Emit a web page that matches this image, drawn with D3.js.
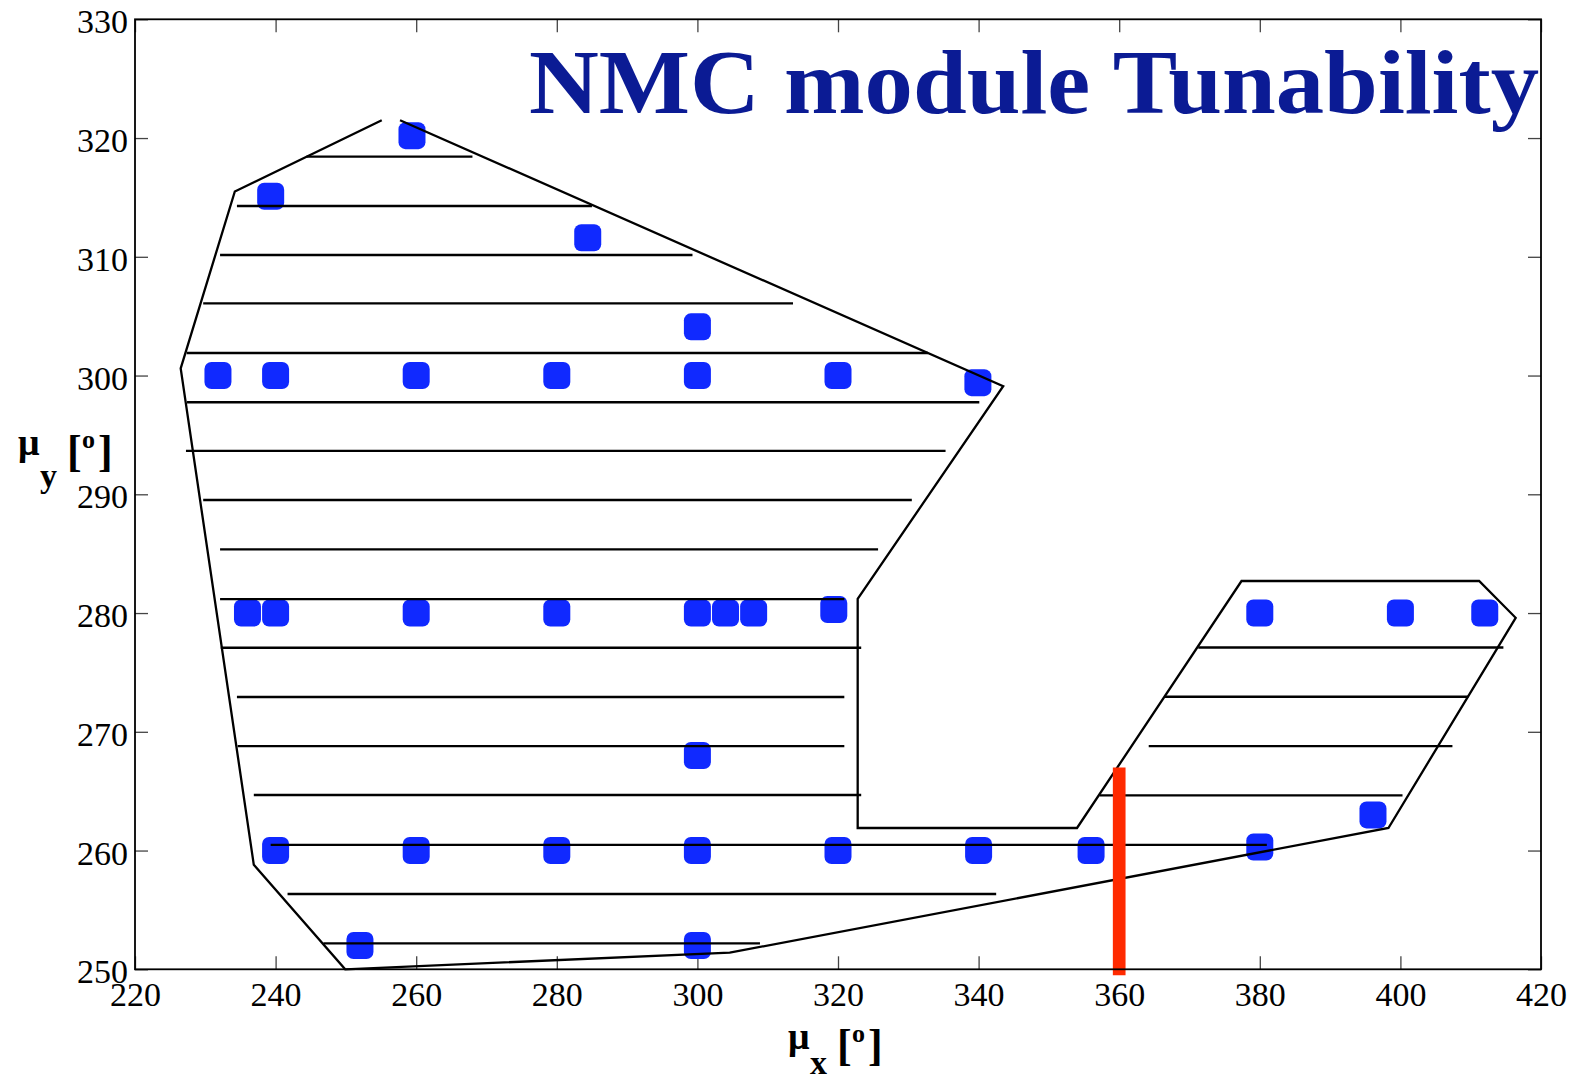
<!DOCTYPE html>
<html lang="en">
<head>
  <meta charset="utf-8">
  <script src="https://d3js.org/d3.v7.min.js"></script>
  <style>
    body { margin: 0; background: #fff; }
    svg { display: block; font-family: "Liberation Serif", "Times New Roman", serif; }
    .tick line { stroke: #444; stroke-width: 1.3px; }
    .tick text { font-family: "Liberation Serif", "Times New Roman", serif; font-size: 34px; fill: #000; }
  </style>
</head>
<body>
<script>
// tuning points (mu_x, mu_y) in degrees
var ptX = [259.4, 239.3, 284.4, 300,
           231.8, 240, 260, 280, 300, 320, 339.9,
           236, 240, 260, 280, 300, 304, 308, 319.4,
           380, 400, 412,
           300,
           240, 260, 280, 300, 320, 340, 356, 380,
           396.1,
           252, 300];
var ptY = [320.2, 315.1, 311.6, 304.1,
           300, 300, 300, 300, 300, 300, 299.4,
           280, 280, 280, 280, 280, 280, 280, 280.3,
           280, 280, 280,
           268,
           260, 260, 260, 260, 260, 260, 260, 260.3,
           263,
           252, 252];

// outline of the tunable region (open at the top)
var edgeX = [257.7, 343.5, 322.8, 322.8, 354.0, 377.4, 411.2, 416.4, 398.3, 304.6, 249.9, 236.9, 226.5, 234.2, 255.1];
var edgeY = [321.5, 299.1, 281.2, 261.9, 261.9, 282.7, 282.7, 279.6, 261.9, 251.4, 250.0, 258.8, 300.6, 315.5, 321.5];

// hatching segments
var hatchY  = [318.43, 314.28, 310.15, 306.07, 301.9, 297.75, 293.65, 289.52, 285.37, 281.18,
               277.08, 272.93, 268.8, 264.68, 260.47, 256.34, 252.19,
               277.1, 272.95, 268.8, 264.65];
var hatchX0 = [244.4, 234.5, 232.1, 229.7, 227.35, 227.4, 227.25, 229.7, 232.1, 232.1,
               232.2, 234.5, 234.6, 236.9, 239.3, 241.7, 246.8,
               371.25, 366.4, 364.2, 357.2];
var hatchX1 = [268.0, 285.0, 299.3, 313.6, 332.8, 340.1, 335.3, 330.5, 325.7, 320.9,
               323.3, 320.9, 320.9, 323.3, 381.0, 342.5, 308.9,
               414.65, 409.65, 407.4, 400.3];

// red marker at mu_x = 360
var markX = [360, 360];
var markY = [249.5, 267.0];

var xTicks = [220, 240, 260, 280, 300, 320, 340, 360, 380, 400, 420];
var yTicks = [250, 260, 270, 280, 290, 300, 310, 320, 330];

var width = 1573, height = 1082;
var m = {left: 135, right: 1541, top: 19.3, bottom: 969.3};

var svg = d3.select("body").append("svg")
    .attr("width", width)
    .attr("height", height);

var x = d3.scaleLinear().domain([220, 420]).range([m.left, m.right]);
var y = d3.scaleLinear().domain([250, 330]).range([m.bottom, m.top]);

// axes with inward ticks on all sides
var gx = svg.append("g").attr("transform", "translate(0," + m.bottom + ")")
    .call(d3.axisBottom(x).tickValues(xTicks).tickSizeInner(-13).tickSizeOuter(0).tickPadding(13));
gx.select(".domain").remove();

var gxt = svg.append("g").attr("transform", "translate(0," + m.top + ")")
    .call(d3.axisTop(x).tickValues(xTicks).tickSizeInner(-13).tickSizeOuter(0).tickFormat(""));
gxt.select(".domain").remove();

var gy = svg.append("g").attr("transform", "translate(" + m.left + ",0)")
    .call(d3.axisLeft(y).tickValues(yTicks).tickSizeInner(-13).tickSizeOuter(0).tickPadding(7));
gy.select(".domain").remove();
gy.selectAll("text").attr("dy", "0.4em");

var gyr = svg.append("g").attr("transform", "translate(" + m.right + ",0)")
    .call(d3.axisRight(y).tickValues(yTicks).tickSizeInner(-13).tickSizeOuter(0).tickFormat(""));
gyr.select(".domain").remove();

// points
svg.append("g").selectAll("rect")
    .data(d3.range(ptX.length))
    .enter().append("rect")
    .attr("x", function(i){ return x(ptX[i]) - 13.5; })
    .attr("y", function(i){ return y(ptY[i]) - 13.5; })
    .attr("width", 27)
    .attr("height", 27)
    .attr("rx", 7)
    .attr("fill", "#1029ff");

// hatching
svg.append("g").selectAll("line")
    .data(d3.range(hatchY.length))
    .enter().append("line")
    .attr("x1", function(i){ return x(hatchX0[i]); })
    .attr("x2", function(i){ return x(hatchX1[i]); })
    .attr("y1", function(i){ return y(hatchY[i]); })
    .attr("y2", function(i){ return y(hatchY[i]); })
    .attr("stroke", "#000")
    .attr("stroke-width", 2.3);

// outline
var line = d3.line()
    .x(function(i){ return x(edgeX[i]); })
    .y(function(i){ return y(edgeY[i]); });
svg.append("path")
    .attr("d", line(d3.range(edgeX.length)))
    .attr("fill", "none")
    .attr("stroke", "#000")
    .attr("stroke-width", 2.3)
    .attr("stroke-linejoin", "miter");

// red marker
svg.append("line")
    .attr("x1", x(markX[0])).attr("x2", x(markX[1]))
    .attr("y1", y(markY[0])).attr("y2", y(markY[1]))
    .attr("stroke", "#ff2a00")
    .attr("stroke-width", 12.7);

// frame
svg.append("rect")
    .attr("x", m.left).attr("y", m.top)
    .attr("width", m.right - m.left).attr("height", m.bottom - m.top)
    .attr("fill", "none")
    .attr("stroke", "#000")
    .attr("stroke-width", 1.8);

// title
svg.append("text")
    .attr("x", 529).attr("y", 112.7)
    .attr("textLength", 1010)
    .attr("lengthAdjust", "spacingAndGlyphs")
    .attr("font-size", 92)
    .attr("font-weight", "bold")
    .attr("fill", "#0b1b94")
    .text("NMC module Tunability");

// axis labels: mu with subscript and [deg]
function axisLabel(ox, oy, sub, subY) {
  var g = svg.append("g").attr("font-weight", "bold").attr("fill", "#000");
  g.append("text").attr("x", ox).attr("y", oy).attr("font-size", 38).text("μ");
  g.append("text").attr("x", ox + 22).attr("y", subY).attr("font-size", 34).text(sub);
  g.append("text").attr("x", ox + 49).attr("y", oy + 11).attr("font-size", 44).text("[");
  g.append("text").attr("x", ox + 64).attr("y", oy - 7).attr("font-size", 26).text("o");
  g.append("text").attr("x", ox + 80).attr("y", oy + 11).attr("font-size", 44).text("]");
}
axisLabel(18, 455, "y", 487);
axisLabel(788, 1049, "x", 1074);
</script>
</body>
</html>
